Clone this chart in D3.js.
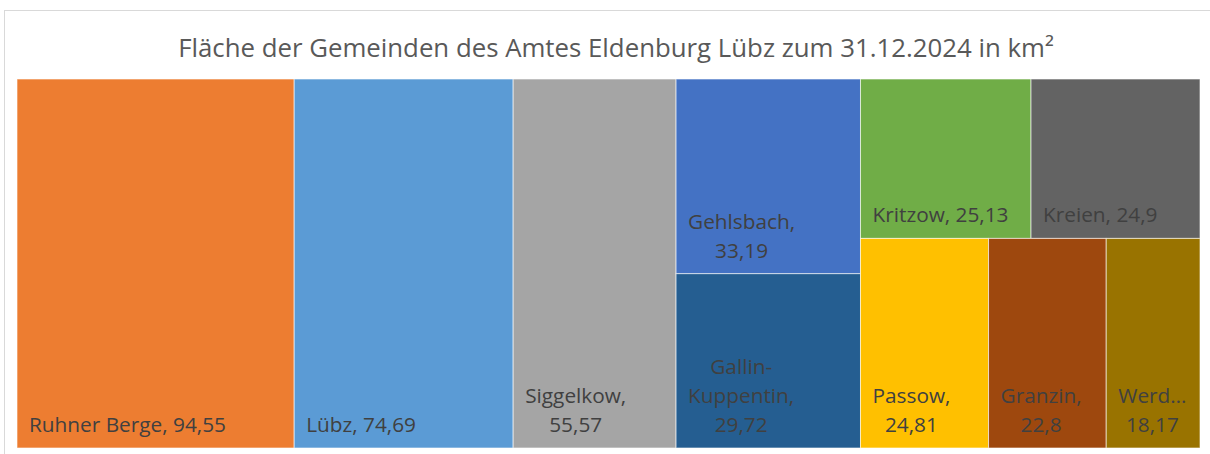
<!DOCTYPE html>
<html>
<head>
<meta charset="utf-8">
<script src="https://cdn.jsdelivr.net/npm/d3@7"></script>
<style>
  body { margin: 0; background: #fff; }
  svg text { font-family: "Open Sans", Lato, sans-serif; }
</style>
</head>
<body>
<svg class="treemap" width="1210" height="454"></svg>
<script>
// values (km²)
var title = "Fläche der Gemeinden des Amtes Eldenburg Lübz zum 31.12.2024 in km²";
var names = ["Ruhner Berge", "Lübz", "Siggelkow", "Gehlsbach", "Gallin-Kuppentin",
             "Kritzow", "Kreien", "Passow", "Granzin", "Werder"];
var values = [94.55, 74.69, 55.57, 33.19, 29.72, 25.13, 24.9, 24.81, 22.8, 18.17];
var colors = ["#ED7D31", "#5B9BD5", "#A5A5A5", "#4472C4", "#255E91",
              "#70AD47", "#636363", "#FFC000", "#9E480E", "#997300"];
// how Excel grouped the tiles (indexes into names)
var groups = [[0], [1], [2], [3, 4], [[5, 6], [7, 8, 9]]];

var svg = d3.select("svg.treemap"),
    width = 1210,
    height = 454;

var fmt = function(v){ return String(v).replace(".", ","); };

// frame of the chart
svg.append("rect")
    .attr("x", 4.5).attr("y", 10.5)
    .attr("width", width + 10).attr("height", height)
    .attr("fill", "#fff")
    .attr("stroke", "#D9D9D9");

svg.append("text")
    .attr("x", 616).attr("y", 57)
    .attr("text-anchor", "middle")
    .attr("font-size", 25.8)
    .attr("fill", "#595959")
    .text(title);

function build(g){
  if (Array.isArray(g)) {
    if (g.length == 1 && !Array.isArray(g[0])) return build(g[0]);
    return {children: g.map(build)};
  }
  return {name: names[g], value: values[g], color: colors[g]};
}

var root = d3.hierarchy({children: groups.map(build)})
    .sum(function(d){ return d.value || 0; });

d3.treemap()
    .tile(d3.treemapSliceDice)
    .size([1183, 369])
    .round(false)(root);

var plot = svg.append("g").attr("transform", "translate(17,79)");

var node = plot.selectAll(".node")
  .data(root.leaves())
  .enter().append("g")
    .attr("class", "node")
    .attr("transform", function(d){ return "translate(" + d.x0 + "," + d.y0 + ")"; });

node.append("rect")
    .attr("width", function(d){ return d.x1 - d.x0; })
    .attr("height", function(d){ return d.y1 - d.y0; })
    .attr("fill", function(d){ return d.data.color; })
    .attr("stroke", "rgba(255,255,255,0.6)")
    .attr("stroke-width", 1);

var pad = 12, lineH = 29, fontSize = 20.8;

node.each(function(d){
  var g = d3.select(this),
      w = d.x1 - d.x0, h = d.y1 - d.y0,
      maxW = w - 2 * pad;
  var t = g.append("text")
      .attr("font-size", fontSize)
      .attr("fill", "#404040");
  var probe = t.append("tspan");
  function len(s){ probe.text(s); return probe.node().getComputedTextLength(); }

  var full = d.data.name + ", " + fmt(d.data.value);
  var lines = [];
  if (len(full) <= maxW) {
    lines = [full];
  } else {
    // break after spaces and hyphens
    var words = (d.data.name + ",").split(/(?<=-)|\s+/);
    var cur = "";
    words.forEach(function(wd){
      var sep = (cur && !cur.endsWith("-")) ? " " : "";
      if (cur && len(cur + sep + wd) > maxW) { lines.push(cur); cur = wd; }
      else cur = cur + sep + wd;
    });
    if (cur) lines.push(cur);
    lines = lines.map(function(l){
      if (len(l) <= maxW) return l;
      var s = l;
      while (s.length > 1 && len(s + "…") > maxW) s = s.slice(0, -1);
      return s + "…";
    });
    lines.push(fmt(d.data.value));
  }
  var widths = lines.map(len);
  probe.remove();
  var blockW = d3.max(widths);
  var bottom = h - 16;
  t.selectAll("tspan")
    .data(lines)
    .enter().append("tspan")
      .attr("x", function(l, i){ return pad + (blockW - widths[i]) / 2; })
      .attr("y", function(l, i){ return bottom - (lines.length - 1 - i) * lineH; })
      .text(function(l){ return l; });
});
</script>
</body>
</html>
